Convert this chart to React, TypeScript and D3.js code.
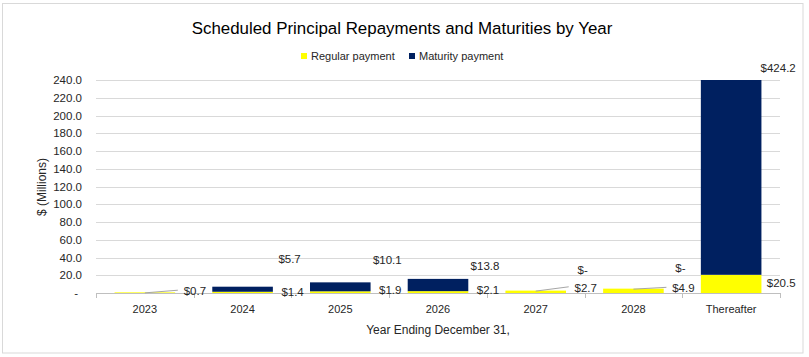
import React from "react";
import * as d3 from "d3";

const categories = ["2023", "2024", "2025", "2026", "2027", "2028", "Thereafter"];
const regularPayment = [0.7, 1.4, 1.9, 2.1, 2.7, 4.9, 20.5];
const maturityPayment = [0, 5.7, 10.1, 13.8, 0, 0, 424.2];
const showMaturityLabel = [false, true, true, true, true, true, true];
const yTicks = [0, 20, 40, 60, 80, 100, 120, 140, 160, 180, 200, 220, 240];
const seriesNames = ["Regular payment", "Maturity payment"];

// layout-only nudges (pixels) for the manually placed Excel labels
const regularLabelDy = [-1.5, 0, -2, -2, -4, -2.5, -1];
const maturityLabelDy = [0, -28, -22, -13, -21, -21, -12];
const leaderLine = [true, false, false, false, true, true, false];

const W = 809;
const H = 357;
const FONT = "'Liberation Sans', Arial, sans-serif";
const YELLOW = "#FFFF00";
const NAVY = "#002060";
const TEXT = "#262626";

export default function App() {
  const plotLeft = 96;
  const plotRight = 780;
  const y = d3.scaleLinear().domain([0, 240]).range([293, 80]);
  const x = d3
    .scaleBand<string>()
    .domain(categories)
    .range([plotLeft, plotRight])
    .paddingInner(0.38)
    .paddingOuter(0.19);
  const step = x.step();
  const bw = x.bandwidth();
  const fmt = (v: number) => (v === 0 ? "$-" : "$" + d3.format(".1f")(v));

  return (
    <svg
      width={W}
      height={H}
      style={{ position: "absolute", left: 0, top: 0, background: "#fff" }}
      fontFamily={FONT}
    >
      <rect x={2.5} y={3.5} width={800.5} height={349.5} fill="#fff" stroke="#D9D9D9" strokeWidth={1} />
      <text x={402} y={34} textAnchor="middle" fontSize={16.9} fill="#000">
        Scheduled Principal Repayments and Maturities by Year
      </text>

      {/* legend */}
      <g fontSize={11} fill={TEXT}>
        <rect x={301} y={53} width={6} height={6} fill={YELLOW} />
        <text x={311} y={60}>{seriesNames[0]}</text>
        <rect x={409} y={53} width={6} height={6} fill={NAVY} />
        <text x={419} y={60}>{seriesNames[1]}</text>
      </g>

      {/* gridlines */}
      {yTicks.map((t) => (
        <line
          key={t}
          x1={plotLeft}
          x2={plotRight}
          y1={Math.round(y(t)) + 0.5}
          y2={Math.round(y(t)) + 0.5}
          stroke={t === 0 ? "#BFBFBF" : "#D9D9D9"}
          strokeWidth={1}
        />
      ))}
      {yTicks.map((t) => (
        <text
          key={"l" + t}
          x={t === 0 ? 78 : 82}
          y={y(t) + 4}
          textAnchor="end"
          fontSize={11.5}
          fill={TEXT}
        >
          {t === 0 ? "-" : d3.format(".1f")(t)}
        </text>
      ))}

      {/* x ticks */}
      {d3.range(categories.length + 1).map((i) => {
        const xx = Math.round(plotLeft + i * step) + 0.5;
        return <line key={"t" + i} x1={xx} x2={xx} y1={293} y2={298} stroke="#BFBFBF" />;
      })}
      {categories.map((c) => (
        <text key={"c" + c} x={x(c)! + bw / 2} y={313} textAnchor="middle" fontSize={11} fill={TEXT}>
          {c}
        </text>
      ))}

      <defs>
        <clipPath id="plotClip">
          <rect x={plotLeft} y={y(240)} width={plotRight - plotLeft} height={y(0) - y(240)} />
        </clipPath>
      </defs>

      {/* bars */}
      <g clipPath="url(#plotClip)">
        {categories.map((c, i) => {
          const r = regularPayment[i];
          const m = maturityPayment[i];
          return (
            <g key={"b" + c}>
              <rect x={x(c)} width={bw} y={y(r)} height={y(0) - y(r)} fill={YELLOW} />
              {m > 0 && (
                <rect x={x(c)} width={bw} y={y(r + m)} height={y(r) - y(r + m)} fill={NAVY} />
              )}
            </g>
          );
        })}
      </g>

      {/* regular labels with leader lines */}
      {categories.map((c, i) => {
        const cx = x(c)! + bw / 2;
        const r = regularPayment[i];
        const ly = (y(r) + y(0)) / 2 + regularLabelDy[i];
        return (
          <g key={"rl" + c}>
            {leaderLine[i] && (
              <line
                x1={cx}
                y1={y(r) + 0.5}
                x2={cx + 33}
                y2={ly - 1}
                stroke="#A6A6A6"
                strokeWidth={1}
              />
            )}
            <text x={cx + 50} y={ly + 4} textAnchor="middle" fontSize={11.5} fill={TEXT}>
              {fmt(r)}
            </text>
          </g>
        );
      })}

      {/* maturity labels */}
      {categories.map((c, i) => {
        if (!showMaturityLabel[i]) return null;
        const cx = x(c)! + bw / 2;
        const top = y(Math.min(240, regularPayment[i] + maturityPayment[i]));
        const ly = top + maturityLabelDy[i];
        return (
          <text key={"ml" + c} x={cx + 47} y={ly + 4} textAnchor="middle" fontSize={11.5} fill={TEXT}>
            {fmt(maturityPayment[i])}
          </text>
        );
      })}

      <text x={438} y={334} textAnchor="middle" fontSize={12} fill={TEXT}>
        Year Ending December 31,
      </text>
      <text
        transform="translate(46,187) rotate(-90)"
        textAnchor="middle"
        fontSize={12}
        fill={TEXT}
      >
        $ (Millions)
      </text>
    </svg>
  );
}
